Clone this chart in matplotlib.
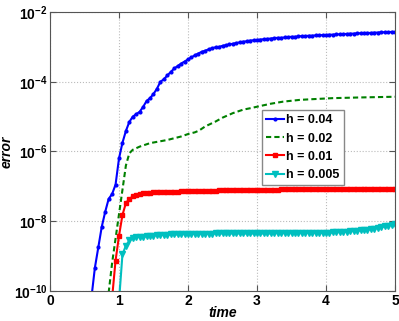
import numpy as np
import matplotlib
matplotlib.use("Agg")
import matplotlib.pyplot as plt

plt.rcParams['font.family'] = ['Liberation Sans', 'DejaVu Sans']
plt.rcParams['font.weight'] = 'bold'
plt.rcParams['mathtext.fontset'] = 'custom'
plt.rcParams['mathtext.rm'] = 'Liberation Sans:bold'
plt.rcParams['mathtext.bf'] = 'Liberation Sans:bold'
plt.rcParams['mathtext.default'] = 'bf'

# h = 0.04 (log10 of error), t = 0.60 .. 5.00 step 0.05
t_h004 = np.round(np.arange(0.60, 5.001, 0.05), 2)
log_h004 = [-10.2, -9.34, -8.75, -8.16, -7.73, -7.36, -7.22, -6.95, -6.2, -5.75,
            -5.41, -5.15, -5.0, -4.93, -4.86, -4.72, -4.55, -4.47, -4.35, -4.2,
            -4.0, -3.93, -3.82, -3.72, -3.62, -3.55, -3.48, -3.42, -3.36, -3.3,
            -3.24, -3.19, -3.14, -3.11, -3.07, -3.04, -3.01, -3.0, -2.97, -2.95,
            -2.93, -2.91, -2.89, -2.87, -2.85, -2.84, -2.82, -2.81, -2.8, -2.79,
            -2.78, -2.77, -2.76, -2.75, -2.74, -2.74, -2.73, -2.72, -2.71, -2.71,
            -2.7, -2.69, -2.69, -2.68, -2.68, -2.67, -2.67, -2.66, -2.66, -2.65,
            -2.65, -2.64, -2.64, -2.63, -2.63, -2.62, -2.62, -2.61, -2.61, -2.6,
            -2.6, -2.6, -2.59, -2.59, -2.58, -2.58, -2.58, -2.57, -2.57]

# h = 0.02 (no markers)
t_h002 = [0.85, 0.90, 0.95, 1.0, 1.05, 1.1, 1.15, 1.2, 1.3, 1.45, 1.7, 1.9, 2.0,
          2.1, 2.16, 2.25, 2.4, 2.5, 2.65, 2.8, 2.9, 3.06, 3.2, 3.38, 3.62, 3.8,
          4.1, 4.5, 5.0]
log_h002 = [-10.05, -9.2, -8.5, -7.8, -7.1, -6.4, -6.05, -5.95, -5.86, -5.76,
            -5.67, -5.57, -5.5, -5.45, -5.4, -5.28, -5.14, -5.03, -4.9, -4.8,
            -4.76, -4.69, -4.63, -4.57, -4.52, -4.5, -4.47, -4.45, -4.43]

# h = 0.01, t = 0.90 .. 5.00 step 0.05
t_h001 = np.round(np.arange(0.90, 5.001, 0.05), 2)
log_h001 = [-10.2, -9.13, -8.42, -7.82, -7.48, -7.36, -7.29, -7.25, -7.21, -7.2,
            -7.19, -7.18, -7.17, -7.17, -7.16, -7.16, -7.15, -7.15, -7.15, -7.15,
            -7.14, -7.14, -7.14, -7.13, -7.13, -7.13, -7.13, -7.12, -7.12, -7.12,
            -7.12, -7.11, -7.11, -7.11, -7.11, -7.11, -7.1, -7.1, -7.1, -7.1,
            -7.1, -7.1, -7.09, -7.09, -7.09, -7.09, -7.09, -7.09, -7.09, -7.08,
            -7.08, -7.08, -7.08, -7.08, -7.08, -7.08, -7.08, -7.08, -7.08, -7.08,
            -7.07, -7.07, -7.07, -7.07, -7.07, -7.07, -7.07, -7.07, -7.07, -7.07,
            -7.07, -7.07, -7.07, -7.07, -7.07, -7.07, -7.07, -7.07, -7.07, -7.07,
            -7.07, -7.07, -7.07]

# h = 0.005, t = 1.00 .. 5.00 step 0.05
t_h0005 = np.round(np.arange(1.00, 5.001, 0.05), 2)
log_h0005 = [-10.3, -8.95, -8.7, -8.55, -8.49, -8.46, -8.45, -8.44, -8.43, -8.42,
             -8.41, -8.4, -8.4, -8.39, -8.39, -8.38, -8.38, -8.38, -8.37, -8.37,
             -8.37, -8.36, -8.36, -8.36, -8.36, -8.36, -8.36, -8.36, -8.35, -8.35,
             -8.35, -8.35, -8.35, -8.35, -8.35, -8.35, -8.35, -8.35, -8.35, -8.35,
             -8.35, -8.35, -8.35, -8.35, -8.35, -8.34, -8.34, -8.34, -8.34, -8.34,
             -8.34, -8.34, -8.34, -8.34, -8.33, -8.33, -8.33, -8.33, -8.33, -8.33,
             -8.33, -8.33, -8.32, -8.32, -8.31, -8.31, -8.30, -8.29, -8.28, -8.27,
             -8.26, -8.25, -8.24, -8.23, -8.21, -8.19, -8.17, -8.15, -8.13, -8.10,
             -8.08]

fig = plt.figure(figsize=(3.99, 3.21), dpi=100)
ax = fig.add_axes([0.1253, 0.0935, 0.8647, 0.8691])

ax.semilogy(t_h004, 10.0 ** np.array(log_h004), '-', color=(0, 0, 1), lw=1.5,
            marker='.', ms=4, label='h = 0.04')
ax.semilogy(t_h002, 10.0 ** np.array(log_h002), '--', color=(0, 0.5, 0), lw=1.5,
            dashes=(2.5, 1.5), label='h = 0.02')
ax.semilogy(t_h001, 10.0 ** np.array(log_h001), '-', color=(1, 0, 0),
            lw=1.5, marker='s', ms=3.5, label='h = 0.01')
ax.semilogy(t_h0005, 10.0 ** np.array(log_h0005), '-',
            color=(0, 0.75, 0.75), lw=1.5, marker='v', ms=4, label='h = 0.005')

ax.set_xlim(0, 5)
ax.set_ylim(1e-10, 1e-2)
ax.set_xticks([0, 1, 2, 3, 4, 5])
ax.set_yticks([1e-10, 1e-8, 1e-6, 1e-4, 1e-2])
ax.yaxis.set_minor_locator(matplotlib.ticker.NullLocator())
ax.tick_params(direction='in', top=True, right=True, labelsize=10, length=4,
               color='#555555', pad=2)
for s in ax.spines.values():
    s.set_color('#555555')
ax.grid(True, linestyle=':', color='#bbbbbb', lw=0.8)

ax.set_xlabel('time', fontstyle='italic', fontweight='bold', fontsize=10, labelpad=-1)
ax.set_ylabel('error', fontstyle='italic', fontweight='bold', fontsize=10, labelpad=0)

leg = ax.legend(loc='upper left', bbox_to_anchor=(0.614, 0.649), borderaxespad=0,
                fancybox=False, framealpha=1, edgecolor='#888888', fontsize=9,
                handlelength=1.4, handletextpad=0.2, labelspacing=0.5,
                borderpad=0.35)

fig.savefig('out.png', dpi=100)
